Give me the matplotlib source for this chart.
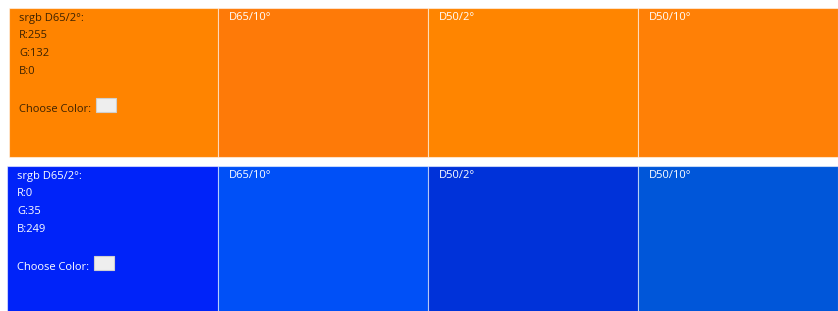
import matplotlib.pyplot as plt

# Datos de los dos grupos de color
rgb_labels = ['R', 'G', 'B']
orange_rgb = [255, 132, 0]
blue_rgb = [0, 35, 249]
views = ['srgb D65/2°:', 'D65/10°', 'D50/2°', 'D50/10°']
orange_cells = ['#ff8400', '#fe7a08', '#ff8500', '#ff8006']
blue_cells = ['#0023f9', '#0050f7', '#0032d9', '#0056d9']

# Geometría de la cuadrícula (en píxeles)
col_edges = [218, 428, 638, 838]
rows = [(9, 8, 149, '#3d2200'), (7, 166, 150, 'white')]

fig = plt.figure(figsize=(8.38, 3.11), dpi=100)
ax = fig.add_axes([0, 0, 1, 1])
ax.set_xlim(0, 838)
ax.set_ylim(311, 0)
ax.axis('off')

plt.rcParams['font.family'] = ['Open Sans', 'DejaVu Sans']
fs = 8.0

for (x0, top, h, first_txt), cells, rgb in zip(rows, [orange_cells, blue_cells],
                                             [orange_rgb, blue_rgb]):
    lefts = [x0] + col_edges[:-1]
    widths = [r - l for l, r in zip(lefts, col_edges)]
    ax.bar(lefts, [h] * 4, width=widths, bottom=top, align='edge',
           color=cells, edgecolor=(1, 1, 1, 0.55), linewidth=0.8)

    # primera celda: valores RGB y selector
    tx = x0 + 10
    ax.text(tx, top + 10, views[0], color=first_txt, fontsize=fs, va='center')
    for i, (lab, val) in enumerate(zip(rgb_labels, rgb)):
        ax.text(tx, top + 28 + 18 * i, f'{lab}:{val}', color=first_txt,
                fontsize=fs, va='center')
    ax.text(tx, top + 101, 'Choose Color:', color=first_txt, fontsize=fs,
            va='center')
    ax.bar(tx + 77, 14, width=20, bottom=top + 90, align='edge',
           color='#eeeeee', edgecolor='#cfcfcf', linewidth=0.8)

    for left, name in zip(col_edges[:-1], views[1:]):
        ax.text(left + 11, top + 10, name, color='white', fontsize=fs,
                va='center')

fig.savefig('out.png', dpi=100)
